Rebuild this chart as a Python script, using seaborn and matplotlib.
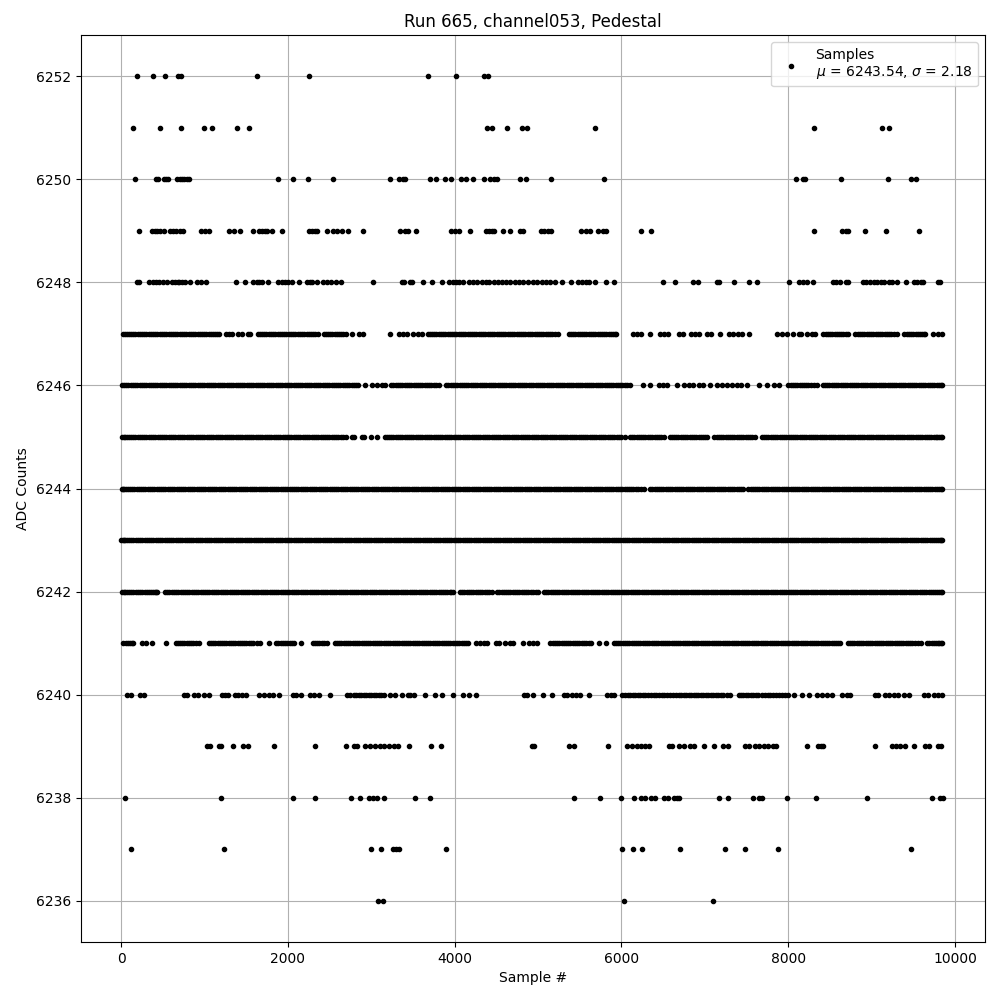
#!/usr/bin/env python3
"""Pedestal samples for run 665, channel053 (ADC counts per sample number)."""

import pandas as pd
import matplotlib
matplotlib.use("Agg")
import matplotlib.pyplot as plt
import seaborn as sns

# Sample numbers, one list per ADC level
adc_6252 = [192, 384, 528, 683, 719, 1631, 2254, 3681, 4017, 4353, 4400]
adc_6251 = [144, 468, 719, 995, 1091, 1391, 1535, 4388, 4448, 4628, 4808, 4868, 5683, 8309, 9125, 9209]
adc_6250 = [168, 420, 444, 516, 540, 564, 672, 708, 732, 756, 792, 816, 1883, 2062, 2242, 2542, 3225, 3333,
            3381, 3405, 3705, 3777, 3885, 3957, 4077, 4137, 4221, 4353, 4424, 4472, 4508, 4784, 4856,
            5156, 5791, 8094, 8178, 8202, 8633, 9197, 9472, 9532]
adc_6249 = [216, 372, 408, 432, 468, 516, 588, 624, 659, 707, 743, 959, 1007, 1055, 1295, 1355, 1427, 1583,
            1655, 1691, 1727, 1751, 1811, 1931, 2254, 2290, 2326, 2350, 2470, 2542, 2590, 2650, 2722, 2902,
            3345, 3405, 3441, 3537, 3957, 4005, 4053, 4185, 4376, 4412, 4448, 4472, 4580, 4664, 4784, 4820,
            5036, 5072, 5120, 5156, 5516, 5576, 5624, 5719, 5779, 5815, 6235, 6355, 8309, 8645, 8693, 8717,
            8921, 9173, 9568]
adc_6248 = [192, 216, 340, 380, 420, 460, 508, 556, 608, 648, 680, 700, 728, 768, 828, 908, 956, 1020, 1376,
            1492, 1580, 1628, 1660, 1692, 1768, 1880, 1928, 1968, 2008, 2056, 2132, 2228, 2260, 2292, 2348,
            2416, 2468, 2516, 2580, 2640, 3020, 3368, 3396, 3465, 3489, 3625, 3733, 3853, 3937, 3977, 4017,
            4057, 4097, 4177, 4217, 4273, 4325, 4377, 4409, 4477, 4517, 4565, 4617, 4665, 4725, 4777, 4825,
            4885, 4937, 4985, 5045, 5093, 5145, 5205, 5293, 5401, 5485, 5533, 5573, 5613, 5681, 5813, 5909,
            6493, 6637, 6855, 6923, 7150, 7168, 7355, 7535, 7623, 8015, 8131, 8183, 8223, 8303, 8535, 8571,
            8623, 8695, 8723, 8895, 8931, 8983, 9023, 9063, 9111, 9143, 9211, 9239, 9303, 9411, 9511, 9543,
            9591, 9611, 9791, 9823]
adc_6247 = [18, 66, 118, 171, 224, 279, 330, 383, 437, 490, 545, 596, 650, 704, 756, 811, 862, 917, 970, 1023,
            1076, 1128, 1175, 1257, 1300, 1329, 1397, 1445, 1523, 1547, 1637, 1690, 1744, 1797, 1850, 1904,
            1957, 2010, 2066, 2118, 2172, 2226, 2278, 2330, 2356, 2428, 2480, 2533, 2587, 2640, 2693, 2764,
            2854, 2896, 3225, 3333, 3385, 3435, 3507, 3556, 3603, 3675, 3726, 3780, 3835, 3888, 3942, 3996,
            4048, 4102, 4155, 4208, 4262, 4317, 4370, 4422, 4476, 4530, 4584, 4636, 4690, 4744, 4798, 4850,
            4904, 4958, 5012, 5065, 5118, 5172, 5234, 5366, 5420, 5474, 5526, 5580, 5634, 5688, 5740, 5794,
            5848, 5900, 5941, 6140, 6185, 6232, 6343, 6463, 6510, 6553, 6691, 6739, 6840, 6888, 6936, 7032,
            7080, 7188, 7290, 7342, 7396, 7452, 7536, 7860, 7920, 7980, 8058, 8129, 8159, 8231, 8283, 8327,
            8423, 8476, 8530, 8584, 8636, 8690, 8723, 8807, 8860, 8914, 8967, 9020, 9074, 9128, 9181, 9235,
            9299, 9394, 9448, 9500, 9554, 9606, 9646, 9742, 9795, 9850]
adc_6247_fill = [42, 92, 145, 198, 252, 305, 357, 410, 464, 518, 571, 623, 677, 730, 784, 836, 890, 944, 997,
                 1050, 1102, 1152, 1664, 1717, 1771, 1824, 1877, 1931, 1984, 2038, 2092, 2145, 2199, 2252, 2304,
                 2454, 2507, 2560, 2614, 2667, 3700, 3753, 3808, 3862, 3915, 3969, 4022, 4075, 4128, 4182, 4235,
                 4290, 4344, 4396, 4449, 4503, 4557, 4610, 4663, 4717, 4771, 4824, 4877, 4931, 4985, 5038, 5092,
                 5145, 5203, 5393, 5447, 5500, 5553, 5607, 5661, 5714, 5767, 5821, 5874, 5921, 8450, 8503, 8557,
                 8610, 8663, 8834, 8887, 8941, 8994, 9047, 9101, 9155, 9208, 9267, 9421, 9474, 9527, 9580, 9626]
adc_6246 = [12, 62, 116, 170, 222, 276, 330, 384, 436, 490, 544, 598, 650, 704, 758, 812, 864, 918, 972, 1026,
            1078, 1132, 1186, 1240, 1292, 1346, 1400, 1454, 1506, 1560, 1614, 1668, 1720, 1774, 1828, 1882,
            1934, 1988, 2042, 2096, 2148, 2202, 2256, 2310, 2362, 2416, 2470, 2524, 2576, 2630, 2684, 2738,
            2790, 2844, 2928, 3008, 3068, 3128, 3168, 3240, 3294, 3346, 3400, 3454, 3508, 3560, 3614, 3668,
            3722, 3774, 3815, 3900, 3952, 4006, 4060, 4114, 4166, 4220, 4274, 4328, 4380, 4434, 4488, 4542,
            4594, 4648, 4702, 4756, 4808, 4862, 4916, 4970, 5022, 5076, 5130, 5184, 5236, 5290, 5344, 5398,
            5450, 5504, 5558, 5612, 5664, 5718, 5772, 5826, 5878, 5932, 5986, 6040, 6105, 6257, 6345, 6445,
            6500, 6545, 6665, 6745, 6805, 6860, 6927, 6983, 7063, 7151, 7203, 7263, 7323, 7383, 7431, 7511,
            7647, 7751, 7831, 7895, 8003, 8056, 8110, 8164, 8216, 8270, 8343, 8415, 8468, 8522, 8576, 8628,
            8682, 8736, 8790, 8842, 8896, 8950, 9004, 9056, 9110, 9164, 9218, 9270, 9324, 9378, 9432, 9484,
            9538, 9592, 9646, 9698, 9752, 9806, 9850]
adc_6246_fill = [37, 89, 143, 196, 249, 303, 357, 410, 463, 517, 571, 624, 677, 731, 785, 838, 891, 945, 999,
                 1052, 1105, 1159, 1213, 1266, 1319, 1373, 1427, 1480, 1533, 1587, 1641, 1694, 1747, 1801, 1855,
                 1908, 1961, 2015, 2069, 2122, 2175, 2229, 2283, 2336, 2389, 2443, 2497, 2550, 2603, 2657, 2711,
                 2764, 2817, 3267, 3320, 3373, 3427, 3481, 3534, 3587, 3641, 3695, 3748, 3926, 3979, 4033, 4087,
                 4140, 4193, 4247, 4301, 4354, 4407, 4461, 4515, 4568, 4621, 4675, 4729, 4782, 4835, 4889, 4943,
                 4996, 5049, 5103, 5157, 5210, 5263, 5317, 5371, 5424, 5477, 5531, 5585, 5638, 5691, 5745, 5799,
                 5852, 5905, 5959, 6013, 6072, 8029, 8083, 8137, 8190, 8243, 8307, 8441, 8495, 8549, 8602, 8655,
                 8709, 8763, 8816, 8869, 8923, 8977, 9030, 9083, 9137, 9191, 9244, 9297, 9351, 9405, 9458, 9511,
                 9565, 9619, 9672, 9725, 9779, 9828]
adc_6245 = [12, 50, 92, 145, 198, 252, 304, 358, 412, 466, 518, 572, 626, 680, 732, 786, 840, 894, 946, 1000,
            1054, 1108, 1160, 1214, 1268, 1322, 1374, 1428, 1482, 1536, 1588, 1642, 1696, 1750, 1802, 1856,
            1910, 1964, 2016, 2070, 2124, 2178, 2230, 2284, 2338, 2392, 2444, 2498, 2552, 2606, 2658, 2696,
            2768, 2796, 2888, 2916, 3000, 3068, 3160, 3212, 3266, 3320, 3374, 3426, 3480, 3534, 3588, 3640,
            3694, 3748, 3802, 3854, 3908, 3962, 4016, 4068, 4122, 4176, 4230, 4282, 4336, 4390, 4444, 4496,
            4550, 4604, 4658, 4710, 4764, 4818, 4872, 4924, 4978, 5032, 5086, 5138, 5192, 5246, 5300, 5352,
            5406, 5460, 5514, 5566, 5620, 5674, 5728, 5780, 5834, 5888, 5942, 6000, 6045, 6105, 6156, 6210,
            6262, 6316, 6370, 6424, 6476, 6505, 6577, 6630, 6684, 6738, 6790, 6844, 6898, 6952, 7004, 7031,
            7115, 7168, 7222, 7276, 7328, 7382, 7436, 7490, 7542, 7603, 7683, 7736, 7790, 7844, 7896, 7950,
            8004, 8058, 8110, 8164, 8218, 8272, 8324, 8378, 8432, 8486, 8538, 8592, 8646, 8700, 8752, 8806,
            8860, 8914, 8966, 9020, 9074, 9128, 9180, 9234, 9288, 9342, 9394, 9448, 9502, 9556, 9608, 9662,
            9716, 9770, 9810, 9850]
adc_6245_fill = [31, 71, 118, 171, 225, 278, 331, 385, 439, 492, 545, 599, 653, 706, 759, 813, 867, 920, 973,
                 1027, 1081, 1134, 1187, 1241, 1295, 1348, 1401, 1455, 1509, 1562, 1615, 1669, 1723, 1776, 1829,
                 1883, 1937, 1990, 2043, 2097, 2151, 2204, 2257, 2311, 2365, 2418, 2471, 2525, 2579, 2632, 3186,
                 3239, 3293, 3347, 3400, 3453, 3507, 3561, 3614, 3667, 3721, 3775, 3828, 3881, 3935, 3989, 4042,
                 4095, 4149, 4203, 4256, 4309, 4363, 4417, 4470, 4523, 4577, 4631, 4684, 4737, 4791, 4845, 4898,
                 4951, 5005, 5059, 5112, 5165, 5219, 5273, 5326, 5379, 5433, 5487, 5540, 5593, 5647, 5701, 5754,
                 5807, 5861, 5915, 5971, 6130, 6183, 6236, 6289, 6343, 6397, 6450, 6603, 6657, 6711, 6764, 6817,
                 6871, 6925, 6978, 7141, 7195, 7249, 7302, 7355, 7409, 7463, 7516, 7572, 7709, 7763, 7817, 7870,
                 7923, 7977, 8031, 8084, 8137, 8191, 8245, 8298, 8351, 8405, 8459, 8512, 8565, 8619, 8673, 8726,
                 8779, 8833, 8887, 8940, 8993, 9047, 9101, 9154, 9207, 9261, 9315, 9368, 9421, 9475, 9529, 9582,
                 9635, 9689, 9743, 9790, 9830]
adc_6244 = [12, 40, 82, 134, 186, 240, 292, 346, 400, 452, 506, 558, 612, 666, 718, 772, 824, 878, 932, 984,
            1038, 1090, 1144, 1198, 1250, 1304, 1356, 1410, 1464, 1516, 1570, 1622, 1676, 1730, 1782, 1836,
            1888, 1942, 1996, 2048, 2102, 2154, 2208, 2262, 2314, 2368, 2420, 2474, 2528, 2580, 2634, 2686,
            2740, 2794, 2846, 2900, 2952, 3006, 3060, 3112, 3166, 3218, 3272, 3326, 3378, 3432, 3484, 3538,
            3592, 3644, 3698, 3750, 3804, 3858, 3910, 3964, 4016, 4070, 4124, 4176, 4230, 4282, 4336, 4390,
            4442, 4496, 4548, 4602, 4656, 4708, 4762, 4814, 4868, 4922, 4974, 5028, 5080, 5134, 5188, 5240,
            5294, 5346, 5400, 5454, 5506, 5560, 5612, 5666, 5720, 5772, 5826, 5878, 5932, 5986, 6038, 6092,
            6144, 6198, 6273, 6345, 6398, 6450, 6504, 6558, 6610, 6664, 6716, 6770, 6824, 6876, 6930, 6982,
            7036, 7090, 7142, 7196, 7248, 7302, 7356, 7408, 7455, 7523, 7576, 7628, 7682, 7736, 7788, 7842,
            7894, 7948, 8002, 8054, 8108, 8160, 8214, 8268, 8320, 8374, 8426, 8480, 8534, 8586, 8640, 8692,
            8746, 8800, 8852, 8906, 8958, 9012, 9066, 9118, 9172, 9224, 9278, 9332, 9384, 9438, 9490, 9544,
            9598, 9650, 9704, 9756, 9810, 9850]
adc_6244_fill = [27, 61, 108, 160, 213, 266, 319, 373, 426, 479, 532, 585, 639, 692, 745, 798, 851, 905, 958,
                 1011, 1064, 1117, 1171, 1224, 1277, 1330, 1383, 1437, 1490, 1543, 1596, 1649, 1703, 1756, 1809,
                 1862, 1915, 1969, 2022, 2075, 2128, 2181, 2235, 2288, 2341, 2394, 2447, 2501, 2554, 2607, 2660,
                 2713, 2767, 2820, 2873, 2926, 2979, 3033, 3086, 3139, 3192, 3245, 3299, 3352, 3405, 3458, 3511,
                 3565, 3618, 3671, 3724, 3777, 3831, 3884, 3937, 3990, 4043, 4097, 4150, 4203, 4256, 4309, 4363,
                 4416, 4469, 4522, 4575, 4629, 4682, 4735, 4788, 4841, 4895, 4948, 5001, 5054, 5107, 5161, 5214,
                 5267, 5320, 5373, 5427, 5480, 5533, 5586, 5639, 5693, 5746, 5799, 5852, 5905, 5959, 6012, 6065,
                 6118, 6171, 6235, 6371, 6424, 6477, 6531, 6584, 6637, 6690, 6743, 6797, 6850, 6903, 6956, 7009,
                 7063, 7116, 7169, 7222, 7275, 7329, 7382, 7432, 7549, 7602, 7655, 7709, 7762, 7815, 7868, 7921,
                 7975, 8028, 8081, 8134, 8187, 8241, 8294, 8347, 8400, 8453, 8507, 8560, 8613, 8666, 8719, 8773,
                 8826, 8879, 8932, 8985, 9039, 9092, 9145, 9198, 9251, 9305, 9358, 9411, 9464, 9517, 9571, 9624,
                 9677, 9730, 9783, 9830]
adc_6243 = [5, 30, 70, 122, 176, 228, 282, 336, 388, 442, 496, 548, 602, 656, 708, 762, 816, 868, 922, 976,
            1028, 1082, 1136, 1188, 1242, 1296, 1348, 1402, 1456, 1508, 1562, 1616, 1668, 1722, 1776, 1828,
            1882, 1936, 1988, 2042, 2096, 2148, 2202, 2256, 2308, 2362, 2416, 2468, 2522, 2576, 2628, 2682,
            2736, 2788, 2842, 2896, 2948, 3002, 3056, 3108, 3162, 3216, 3268, 3322, 3376, 3428, 3482, 3536,
            3588, 3642, 3696, 3748, 3802, 3856, 3908, 3962, 4016, 4068, 4122, 4176, 4228, 4282, 4336, 4388,
            4442, 4496, 4548, 4602, 4656, 4708, 4762, 4816, 4868, 4922, 4976, 5028, 5082, 5136, 5188, 5242,
            5296, 5348, 5402, 5456, 5508, 5562, 5616, 5668, 5722, 5776, 5828, 5882, 5936, 5988, 6042, 6096,
            6148, 6202, 6256, 6308, 6362, 6416, 6468, 6522, 6576, 6628, 6682, 6736, 6788, 6842, 6896, 6948,
            7002, 7056, 7108, 7162, 7216, 7268, 7322, 7376, 7428, 7482, 7536, 7588, 7642, 7696, 7748, 7802,
            7856, 7908, 7962, 8016, 8068, 8122, 8176, 8228, 8282, 8336, 8388, 8442, 8496, 8548, 8602, 8656,
            8708, 8762, 8816, 8868, 8922, 8976, 9028, 9082, 9136, 9188, 9242, 9296, 9348, 9402, 9456, 9508,
            9562, 9616, 9668, 9722, 9776, 9815, 9850]
adc_6243_fill = [18, 50, 96, 149, 202, 255, 309, 362, 415, 469, 522, 575, 629, 682, 735, 789, 842, 895, 949,
                 1002, 1055, 1109, 1162, 1215, 1269, 1322, 1375, 1429, 1482, 1535, 1589, 1642, 1695, 1749, 1802,
                 1855, 1909, 1962, 2015, 2069, 2122, 2175, 2229, 2282, 2335, 2389, 2442, 2495, 2549, 2602, 2655,
                 2709, 2762, 2815, 2869, 2922, 2975, 3029, 3082, 3135, 3189, 3242, 3295, 3349, 3402, 3455, 3509,
                 3562, 3615, 3669, 3722, 3775, 3829, 3882, 3935, 3989, 4042, 4095, 4149, 4202, 4255, 4309, 4362,
                 4415, 4469, 4522, 4575, 4629, 4682, 4735, 4789, 4842, 4895, 4949, 5002, 5055, 5109, 5162, 5215,
                 5269, 5322, 5375, 5429, 5482, 5535, 5589, 5642, 5695, 5749, 5802, 5855, 5909, 5962, 6015, 6069,
                 6122, 6175, 6229, 6282, 6335, 6389, 6442, 6495, 6549, 6602, 6655, 6709, 6762, 6815, 6869, 6922,
                 6975, 7029, 7082, 7135, 7189, 7242, 7295, 7349, 7402, 7455, 7509, 7562, 7615, 7669, 7722, 7775,
                 7829, 7882, 7935, 7989, 8042, 8095, 8149, 8202, 8255, 8309, 8362, 8415, 8469, 8522, 8575, 8629,
                 8682, 8735, 8789, 8842, 8895, 8949, 9002, 9055, 9109, 9162, 9215, 9269, 9322, 9375, 9429, 9482,
                 9535, 9589, 9642, 9695, 9749, 9795, 9833]
adc_6242 = [12, 48, 96, 148, 202, 256, 308, 362, 405, 436, 528, 580, 634, 688, 740, 794, 848, 900, 954, 1008,
            1060, 1114, 1168, 1220, 1274, 1328, 1380, 1434, 1488, 1540, 1594, 1648, 1700, 1754, 1808, 1860,
            1914, 1968, 2020, 2074, 2128, 2180, 2234, 2288, 2340, 2394, 2448, 2500, 2554, 2608, 2660, 2714,
            2768, 2820, 2874, 2928, 2980, 3034, 3088, 3140, 3194, 3248, 3300, 3354, 3408, 3460, 3514, 3568,
            3620, 3674, 3728, 3780, 3834, 3888, 3940, 3985, 4065, 4118, 4172, 4226, 4278, 4332, 4386, 4445,
            4510, 4564, 4618, 4670, 4724, 4778, 4830, 4884, 4938, 5005, 5070, 5124, 5176, 5230, 5284, 5336,
            5390, 5444, 5496, 5550, 5604, 5656, 5710, 5764, 5816, 5870, 5924, 5976, 6030, 6084, 6136, 6190,
            6244, 6296, 6350, 6404, 6456, 6510, 6564, 6616, 6670, 6724, 6776, 6830, 6884, 6936, 6990, 7044,
            7096, 7150, 7204, 7256, 7310, 7364, 7416, 7470, 7524, 7576, 7630, 7684, 7736, 7790, 7844, 7896,
            7950, 8004, 8056, 8110, 8164, 8216, 8270, 8324, 8376, 8430, 8484, 8536, 8590, 8644, 8696, 8750,
            8804, 8856, 8910, 8964, 9016, 9070, 9124, 9176, 9230, 9284, 9336, 9390, 9444, 9496, 9550, 9604,
            9656, 9710, 9764, 9810, 9850]
adc_6242_fill = [30, 72, 122, 175, 229, 282, 335, 384, 420, 554, 607, 661, 714, 767, 821, 874, 927, 981, 1034,
                 1087, 1141, 1194, 1247, 1301, 1354, 1407, 1461, 1514, 1567, 1621, 1674, 1727, 1781, 1834, 1887,
                 1941, 1994, 2047, 2101, 2154, 2207, 2261, 2314, 2367, 2421, 2474, 2527, 2581, 2634, 2687, 2741,
                 2794, 2847, 2901, 2954, 3007, 3061, 3114, 3167, 3221, 3274, 3327, 3381, 3434, 3487, 3541, 3594,
                 3647, 3701, 3754, 3807, 3861, 3914, 3962, 4091, 4145, 4199, 4252, 4305, 4359, 4416, 4537, 4591,
                 4644, 4697, 4751, 4804, 4857, 4911, 4971, 5097, 5150, 5203, 5257, 5310, 5363, 5417, 5470, 5523,
                 5577, 5630, 5683, 5737, 5790, 5843, 5897, 5950, 6003, 6057, 6110, 6163, 6217, 6270, 6323, 6377,
                 6430, 6483, 6537, 6590, 6643, 6697, 6750, 6803, 6857, 6910, 6963, 7017, 7070, 7123, 7177, 7230,
                 7283, 7337, 7390, 7443, 7497, 7550, 7603, 7657, 7710, 7763, 7817, 7870, 7923, 7977, 8030, 8083,
                 8137, 8190, 8243, 8297, 8350, 8403, 8457, 8510, 8563, 8617, 8670, 8723, 8777, 8830, 8883, 8937,
                 8990, 9043, 9097, 9150, 9203, 9257, 9310, 9363, 9417, 9470, 9523, 9577, 9630, 9683, 9737, 9787,
                 9830]
adc_6241 = [28, 62, 105, 148, 248, 300, 368, 536, 656, 708, 760, 812, 866, 936, 1052, 1104, 1158, 1210, 1264,
            1318, 1370, 1424, 1478, 1530, 1584, 1668, 1776, 1860, 1914, 1968, 2022, 2076, 2164, 2300, 2352,
            2406, 2464, 2564, 2616, 2670, 2724, 2776, 2830, 2884, 2936, 2990, 3044, 3096, 3150, 3204, 3256,
            3310, 3364, 3416, 3470, 3524, 3576, 3630, 3684, 3736, 3790, 3844, 3896, 3950, 4004, 4056, 4110,
            4165, 4257, 4310, 4352, 4393, 4497, 4533, 4609, 4660, 4705, 4817, 4889, 4940, 4993, 5149, 5202,
            5256, 5310, 5362, 5416, 5470, 5522, 5576, 5641, 5737, 5821, 5909, 5962, 6016, 6068, 6122, 6176,
            6228, 6282, 6336, 6388, 6442, 6496, 6548, 6602, 6656, 6708, 6762, 6816, 6868, 6922, 6976, 7028,
            7082, 7136, 7188, 7242, 7296, 7348, 7402, 7456, 7508, 7562, 7616, 7668, 7722, 7776, 7828, 7882,
            7936, 7988, 8042, 8096, 8148, 8202, 8256, 8308, 8362, 8416, 8468, 8522, 8576, 8623, 8715, 8768,
            8822, 8876, 8928, 8982, 9036, 9088, 9142, 9196, 9248, 9302, 9356, 9408, 9462, 9516, 9591, 9667,
            9720, 9772, 9812, 9850]
adc_6241_fill = [80, 126, 682, 734, 786, 839, 897, 1078, 1131, 1184, 1237, 1291, 1344, 1397, 1451, 1504, 1557,
                 1628, 1887, 1941, 1995, 2049, 2326, 2379, 2435, 2590, 2643, 2697, 2750, 2803, 2857, 2910, 2963,
                 3017, 3070, 3123, 3177, 3230, 3283, 3337, 3390, 3443, 3497, 3550, 3603, 3657, 3710, 3763, 3817,
                 3870, 3923, 3977, 4030, 4083, 4137, 5175, 5229, 5283, 5336, 5389, 5443, 5496, 5549, 5608, 5935,
                 5989, 6042, 6095, 6149, 6202, 6255, 6309, 6362, 6415, 6469, 6522, 6575, 6629, 6682, 6735, 6789,
                 6842, 6895, 6949, 7002, 7055, 7109, 7162, 7215, 7269, 7322, 7375, 7429, 7482, 7535, 7589, 7642,
                 7695, 7749, 7802, 7855, 7909, 7962, 8015, 8069, 8122, 8175, 8229, 8282, 8335, 8389, 8442, 8495,
                 8549, 8600, 8741, 8795, 8849, 8902, 8955, 9009, 9062, 9115, 9169, 9222, 9275, 9329, 9382, 9435,
                 9489, 9553, 9693, 9746, 9792, 9830]
adc_6240 = [68, 116, 228, 280, 756, 796, 876, 928, 1000, 1060, 1208, 1248, 1288, 1368, 1408, 1448, 1496, 1656,
            1716, 1780, 1820, 1900, 2060, 2100, 2156, 2260, 2316, 2376, 2500, 2708, 2748, 2788, 2848, 2908,
            2968, 3028, 3088, 3148, 3220, 3288, 3368, 3436, 3465, 3513, 3645, 3769, 3853, 3985,
            4105, 4169, 4253, 4837, 4869, 4937, 5057, 5165, 5313, 5353, 5405, 5453, 5505, 5613, 5833, 5873,
            5909, 6005, 6045, 6105, 6165, 6225, 6285, 6353, 6417, 6485, 6545, 6617, 6685, 6745, 6805, 6865,
            6917, 6983, 7043, 7103, 7163, 7223, 7303, 7415, 7463, 7523, 7583, 7643, 7723, 7783, 7855, 7923,
            8003, 8071, 8163, 8251, 8343, 8403, 8463, 8523, 8643, 8711, 8743, 9043, 9071, 9163, 9211, 9263,
            9311, 9383, 9443, 9623, 9671, 9743, 9791, 9843, 2818, 2878, 2938, 2998, 3058, 3118, 6075, 6135,
            6195, 6255, 6319, 6385, 6451, 6515, 6581, 6651, 6715, 6775, 6835, 6891, 6950, 7013, 7073, 7133,
            7193, 7263, 7439, 7493, 7553, 7613, 7683, 7753, 7819, 7889, 7963]
adc_6239 = [1028, 1068, 1180, 1196, 1348, 1468, 1528, 1840, 2320, 2700, 2788, 2828, 2928, 2988, 3048, 3108, 3148,
            3208, 3276, 3316, 3448, 3713, 3841, 4925, 4953, 5373, 5437, 5845, 6065, 6133, 6185, 6233, 6285,
            6325, 6565, 6605, 6685, 6745, 6825, 6865, 6995, 7111, 7223, 7283, 7483, 7535, 7603, 7651, 7711,
            7763, 7815, 7855, 8231, 8355, 8391, 8423, 9035, 9243, 9295, 9343, 9403, 9503, 9635, 9683, 9791,
            9831]
adc_6238 = [48, 1199, 2062, 2326, 2758, 2866, 2974, 3022, 3070, 3153, 3525, 3705, 5432, 5743, 5995, 6151, 6235,
            6283, 6355, 6403, 6511, 6559, 6631, 6667, 6691, 7170, 7278, 7578, 7650, 7686, 7986, 8333, 8945,
            9724, 9820, 9860]
adc_6237 = [120, 1235, 2998, 3117, 3261, 3297, 3333, 3897, 6007, 6139, 6247, 6703, 7242, 7482, 7878, 9472]
adc_6236 = [3082, 3142, 6031, 7098]

adc_levels = [6252, 6251, 6250, 6249, 6248, 6247, 6247, 6246, 6246, 6245, 6245, 6244, 6244, 6243, 6243,
              6242, 6242, 6241, 6241, 6240, 6239, 6238, 6237, 6236]
sample_lists = [adc_6252, adc_6251, adc_6250, adc_6249, adc_6248, adc_6247, adc_6247_fill, adc_6246, adc_6246_fill,
                adc_6245, adc_6245_fill, adc_6244, adc_6244_fill, adc_6243, adc_6243_fill, adc_6242, adc_6242_fill,
                adc_6241, adc_6241_fill, adc_6240, adc_6239, adc_6238, adc_6237, adc_6236]

# Long table for seaborn
rows = []
for level, samples in zip(adc_levels, sample_lists):
    for s in samples:
        rows.append({'sample': s, 'adc': level})
df = pd.DataFrame(rows)

fig, ax = plt.subplots(figsize=(10, 10))

sns.scatterplot(data=df, x='sample', y='adc', ax=ax, marker='.', color='black', s=36,
                edgecolor='black', linewidth=1, zorder=2,
                label='Samples\n$\\mu$ = 6243.54, $\\sigma$ = 2.18')

ax.set_title('Run 665, channel053, Pedestal')
ax.set_xlabel('Sample #')
ax.set_ylabel('ADC Counts')
ax.set_xlim(-480, 10360)
ax.set_yticks(list(range(6236, 6253, 2)))
ax.grid(True)
ax.set_axisbelow(True)
ax.legend(loc='upper right')

fig.subplots_adjust(left=0.081, right=0.985, top=0.965, bottom=0.058)
plt.savefig('out.png', dpi=100)
